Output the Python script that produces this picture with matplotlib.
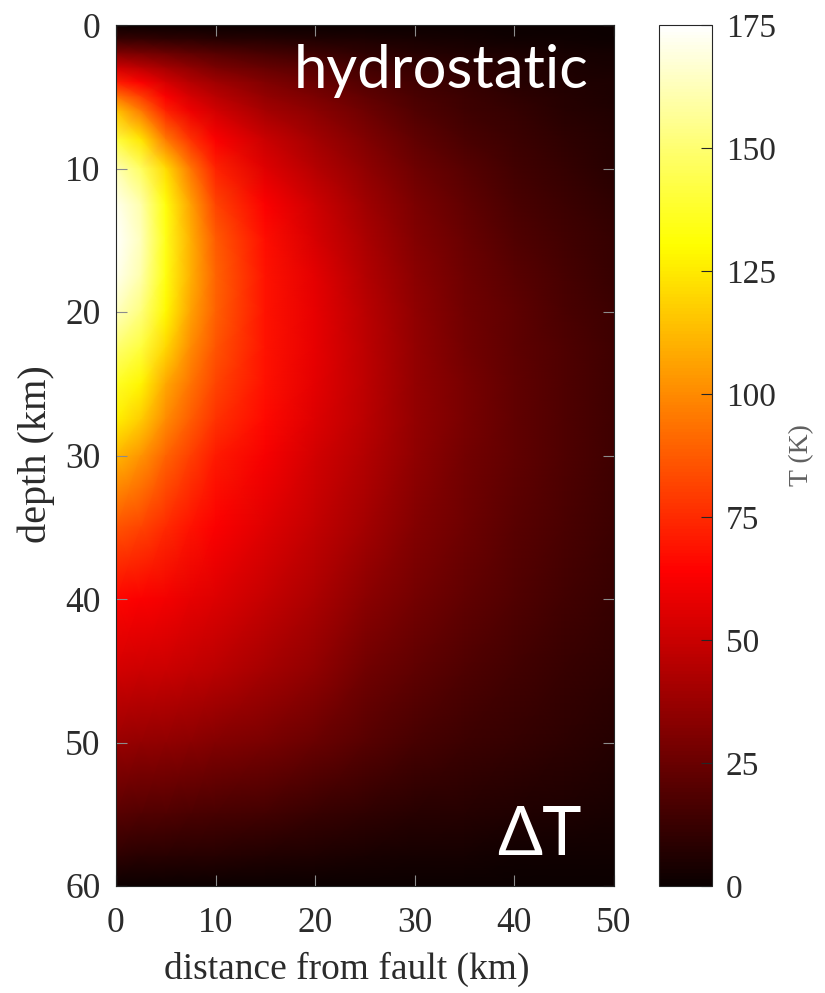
import numpy as np
import matplotlib
matplotlib.use("Agg")
import matplotlib.pyplot as plt

# ---- data (temperature anomaly, K) ----
distance_km = [0, 2.5, 5, 7.5, 10, 15, 20, 25, 30, 35, 40, 45, 50]
depth_km = [0, 1, 2, 3, 4, 5, 6, 8, 10, 12.5, 15, 17.5, 20, 22.5, 25, 27.5,
            30, 35, 40, 45, 50, 55, 58, 60]

# one list per distance column, values top (depth 0) to bottom (depth 60)
T_x0 = [0, 12, 32, 52, 72, 95, 115, 142, 162, 172, 175, 172, 164, 150, 137, 127,
        112, 86, 65, 52, 37, 20, 9, 0]
T_x2_5 = [0, 11, 29, 47, 63, 80, 96, 124, 147, 160, 163, 160, 152, 141, 128, 117,
          103, 82, 63, 51, 36, 19, 8, 0]
T_x5 = [0, 10, 26, 41, 53, 63, 73, 96, 121, 132, 134, 133, 129, 120, 108, 100,
        90, 75, 61, 50, 35, 18, 8, 0]
T_x7_5 = [0, 9, 23, 35, 45, 53, 60, 77, 95, 106, 110, 110, 106, 100, 94, 88,
          80, 69, 58, 48, 34, 17, 7, 0]
T_x10 = [0, 8, 20, 30, 39, 46, 52, 63, 73, 82, 88, 90, 89, 86, 82, 77,
         71, 63, 55, 46, 32, 16, 7, 0]
T_x15 = [0, 7, 16, 24, 31, 36, 41, 50, 56, 63, 67, 69, 69, 69, 68, 66,
         62, 56, 49, 41, 29, 15, 6, 0]
T_x20 = [0, 6, 13, 20, 25, 30, 34, 40, 45, 51, 54, 57, 58, 58, 57, 55,
         52, 48, 42, 35, 25, 12, 5, 0]
T_x25 = [0, 5, 10, 15, 19, 23, 26, 31, 35, 39, 42, 44, 46, 47, 47, 46,
         44, 40, 34, 27, 20, 10, 4, 0]
T_x30 = [0, 4, 8, 12, 15, 17, 19, 23, 26, 30, 32, 34, 35, 36, 36, 36,
         35, 32, 28, 22, 16, 8, 3, 0]
T_x35 = [0, 3, 6, 9, 11, 13, 14, 17, 20, 23, 25, 26, 27, 28, 29, 29,
         28, 26, 23, 18, 13, 7, 3, 0]
T_x40 = [0, 2, 5, 7, 8, 10, 11, 13, 15, 17, 19, 21, 22, 22, 23, 23,
         23, 21, 19, 15, 11, 6, 2, 0]
T_x45 = [0, 2, 4, 5, 6, 7, 8, 10, 11, 13, 15, 16, 17, 18, 18, 18,
         18, 17, 15, 12, 9, 5, 2, 0]
T_x50 = [0, 1, 3, 4, 5, 5, 6, 7, 8, 10, 11, 12, 13, 14, 14, 14,
         14, 13, 12, 10, 7, 4, 2, 0]

x_ticks = [0, 10, 20, 30, 40, 50]
y_ticks = [0, 10, 20, 30, 40, 50, 60]
cbar_ticks = [0, 25, 50, 75, 100, 125, 150, 175]

columns = [T_x0, T_x2_5, T_x5, T_x7_5, T_x10, T_x15, T_x20, T_x25, T_x30,
           T_x35, T_x40, T_x45, T_x50]
T = np.array(columns, dtype=float).T  # shape (depth, distance)

# ---- figure ----
W, H = 825, 993
fig = plt.figure(figsize=(W / 100, H / 100), dpi=100)
serif = ["Liberation Serif", "DejaVu Serif"]
sans = ["Lato", "DejaVu Sans"]
tick_color = "#2b2b2b"

ax = fig.add_axes([116 / W, 1 - 886 / H, (614 - 116) / W, (886 - 25) / H])
X, Y = np.meshgrid(distance_km, depth_km)
mesh = ax.pcolormesh(X, Y, T, cmap="hot", vmin=0, vmax=175, shading="gouraud",
                     rasterized=True)
ax.set_xlim(0, 50)
ax.set_ylim(60, 0)
ax.set_xticks(x_ticks)
ax.set_yticks(y_ticks)
ax.tick_params(direction="in", length=8, width=0.8, top=True, right=True,
               color="0.55", labelsize=25.5, labelcolor=tick_color)
ax.tick_params(axis="x", pad=15)
ax.tick_params(axis="y", pad=11)
for lab in ax.get_xticklabels() + ax.get_yticklabels():
    lab.set_fontfamily(serif)
for s in ax.spines.values():
    s.set_color("#262626")
    s.set_linewidth(0.8)
ax.set_xlabel("distance from fault (km)", fontsize=27, family=serif,
              color=tick_color)
ax.xaxis.set_label_coords((347 - 116) / 498, -(958 - 886) / 861, transform=None)
ax.xaxis.label.set_va("top")
ax.xaxis.set_label_coords((347 - 116) / 498, -(952 - 886) / 861)
ax.set_ylabel("depth (km)", fontsize=29, family=serif, color=tick_color)
ax.yaxis.set_label_coords(-(116 - 36) / 498, 1 - (454 - 25) / 861)
ax.yaxis.label.set_va("center")

ax.text(0.948, 0.9268, "hydrostatic", transform=ax.transAxes, ha="right",
        va="baseline", color="white", fontsize=43, family=sans)
ax.text(0.9357, 0.036, "ΔT", transform=ax.transAxes, ha="right",
        va="baseline", color="white", fontsize=48, family=sans)

cax = fig.add_axes([659 / W, 1 - 886 / H, (712 - 659) / W, (886 - 25) / H])
cb = fig.colorbar(mesh, cax=cax, ticks=cbar_ticks)
cb.outline.set_linewidth(0.8)
cb.outline.set_edgecolor("#262626")
cax.tick_params(direction="in", length=8, width=0.8, color="#262626",
                labelsize=24, labelcolor=tick_color, pad=10)
for lab in cax.get_yticklabels():
    lab.set_fontfamily(serif)
cb.set_label("T (K)", fontsize=20, family=serif, color="#606060")
cax.yaxis.set_label_coords((802 - 659) / 53, 0.5)
cax.yaxis.label.set_va("center")

fig.savefig("out.png", dpi=100)
